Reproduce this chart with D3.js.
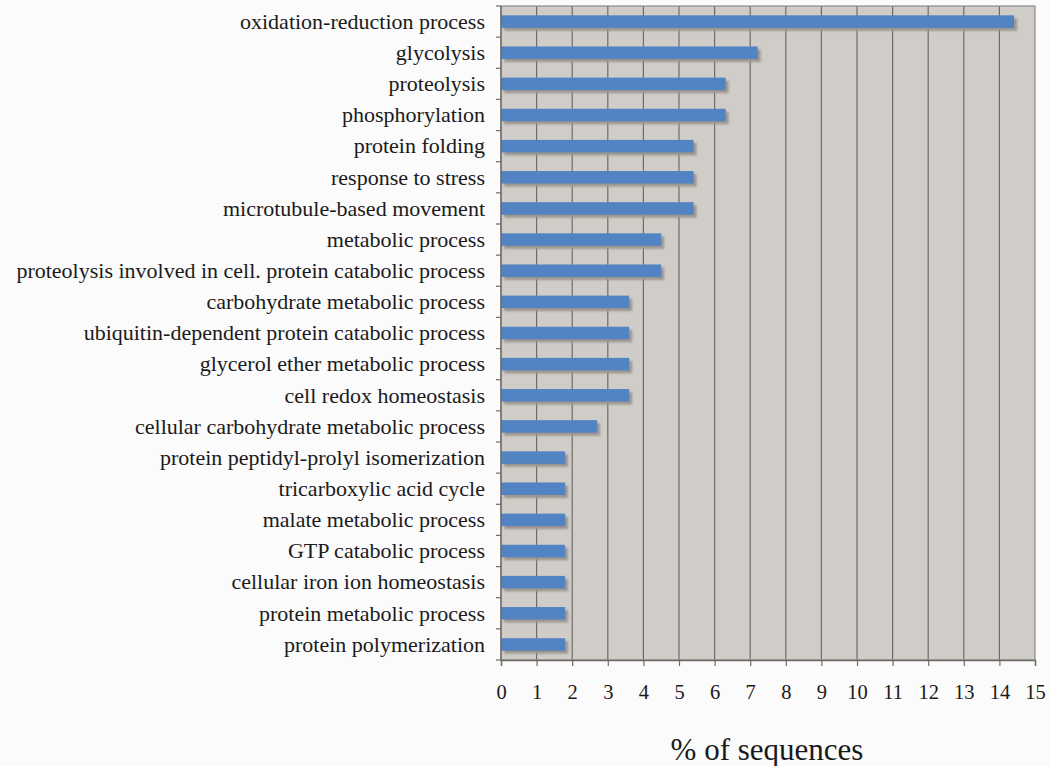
<!DOCTYPE html>
<html>
<head>
<meta charset="utf-8">
<script src="https://cdn.jsdelivr.net/npm/d3@7"></script>
<style>
  html, body { margin: 0; padding: 0; background: #fbfbfb; }
  svg { display: block; }
</style>
</head>
<body>
<svg id="chart" width="1050" height="766"></svg>
<script>
// GO biological process categories, top to bottom
const categories = [
  "oxidation-reduction process",
  "glycolysis",
  "proteolysis",
  "phosphorylation",
  "protein folding",
  "response to stress",
  "microtubule-based movement",
  "metabolic process",
  "proteolysis involved in cell. protein catabolic process",
  "carbohydrate metabolic process",
  "ubiquitin-dependent protein catabolic process",
  "glycerol ether metabolic process",
  "cell redox homeostasis",
  "cellular carbohydrate metabolic process",
  "protein peptidyl-prolyl isomerization",
  "tricarboxylic acid cycle",
  "malate metabolic process",
  "GTP catabolic process",
  "cellular iron ion homeostasis",
  "protein metabolic process",
  "protein polymerization"
];

// Share of sequences per category (%)
const percentValues = [
  14.41, 7.21, 6.31, 6.31, 5.41, 5.41, 5.41, 4.50, 4.50,
  3.60, 3.60, 3.60, 3.60, 2.70,
  1.80, 1.80, 1.80, 1.80, 1.80, 1.80, 1.80
];

// Axis ticks
const xTicks = [0,1,2,3,4,5,6,7,8,9,10,11,12,13,14,15];
const xTitle = "% of sequences";

const data = categories.map((c, i) => ({ name: c, value: percentValues[i] }));

const serif = "'Liberation Serif', 'Times New Roman', serif";
const svg = d3.select("#chart");
const margin = { left: 501, top: 6, right: 15, bottom: 106 };
const W = 1050, H = 766;
const iw = W - margin.left - margin.right;
const ih = H - margin.top - margin.bottom;

const x = d3.scaleLinear().domain([0, 15]).range([0, iw]);
const y = d3.scaleBand().domain(categories).range([0, ih]).paddingInner(0).paddingOuter(0);

const defs = svg.append("defs");
const blur = defs.append("filter").attr("id", "shadow").attr("x", "-5%").attr("y", "-50%").attr("width", "110%").attr("height", "200%");
blur.append("feGaussianBlur").attr("stdDeviation", 1.2);

const g = svg.append("g").attr("transform", `translate(${margin.left},${margin.top})`);

// plot background
g.append("rect")
  .attr("x", 0).attr("y", 0)
  .attr("width", iw).attr("height", ih)
  .attr("fill", "#d0cdc9");

// vertical gridlines
g.selectAll("line.grid")
  .data(xTicks.filter(t => t > 0 && t < 15))
  .join("line")
  .attr("class", "grid")
  .attr("x1", d => x(d)).attr("x2", d => x(d))
  .attr("y1", 0).attr("y2", ih)
  .attr("stroke", "#6e6b69").attr("stroke-width", 1.2);

// plot frame
g.append("rect")
  .attr("x", 0).attr("y", 0)
  .attr("width", iw).attr("height", ih)
  .attr("fill", "none")
  .attr("stroke", "#8d8a88").attr("stroke-width", 1.2);

const barH = 12.5;

// bar shadows
g.selectAll("rect.shadow")
  .data(data)
  .join("rect")
  .attr("class", "shadow")
  .attr("x", 3)
  .attr("y", d => y(d.name) + y.bandwidth() / 2 - barH / 2 + 3)
  .attr("width", d => x(d.value))
  .attr("height", barH)
  .attr("fill", "#9c958f")
  .attr("filter", "url(#shadow)");

// bars
g.selectAll("rect.bar")
  .data(data)
  .join("rect")
  .attr("class", "bar")
  .attr("x", 0)
  .attr("y", d => y(d.name) + y.bandwidth() / 2 - barH / 2)
  .attr("width", d => x(d.value))
  .attr("height", barH)
  .attr("fill", "#5283c2");

// left axis: ticks on band boundaries
const boundaries = d3.range(categories.length + 1).map(i => i * y.step());
g.selectAll("line.ytick")
  .data(boundaries)
  .join("line")
  .attr("class", "ytick")
  .attr("x1", -5).attr("x2", 0)
  .attr("y1", d => d).attr("y2", d => d)
  .attr("stroke", "#6e6b69").attr("stroke-width", 1.2);

g.append("line")
  .attr("x1", 0).attr("x2", 0).attr("y1", 0).attr("y2", ih)
  .attr("stroke", "#6e6b69").attr("stroke-width", 1.4);

// category labels
g.selectAll("text.cat")
  .data(data)
  .join("text")
  .attr("class", "cat")
  .attr("x", -16)
  .attr("y", d => y(d.name) + y.bandwidth() / 2)
  .attr("dy", "0.33em")
  .attr("text-anchor", "end")
  .attr("font-family", serif)
  .attr("font-size", 22)
  .attr("fill", "#1a1a1a")
  .text(d => d.name);

// bottom axis
const xAxis = d3.axisBottom(x).tickValues(xTicks).tickSize(6).tickPadding(18).tickFormat(d3.format("d"));
const ax = g.append("g").attr("transform", `translate(0,${ih})`).call(xAxis);
ax.select(".domain").attr("stroke", "#6e6b69").attr("stroke-width", 1.4);
ax.selectAll(".tick line").attr("stroke", "#6e6b69").attr("stroke-width", 1.2);
ax.selectAll(".tick text")
  .attr("font-family", serif)
  .attr("font-size", 20.5)
  .attr("fill", "#1a1a1a");

// axis title
svg.append("text")
  .attr("x", 767)
  .attr("y", 760)
  .attr("text-anchor", "middle")
  .attr("font-family", serif)
  .attr("font-size", 31)
  .attr("fill", "#1a1a1a")
  .text(xTitle);
</script>
</body>
</html>
